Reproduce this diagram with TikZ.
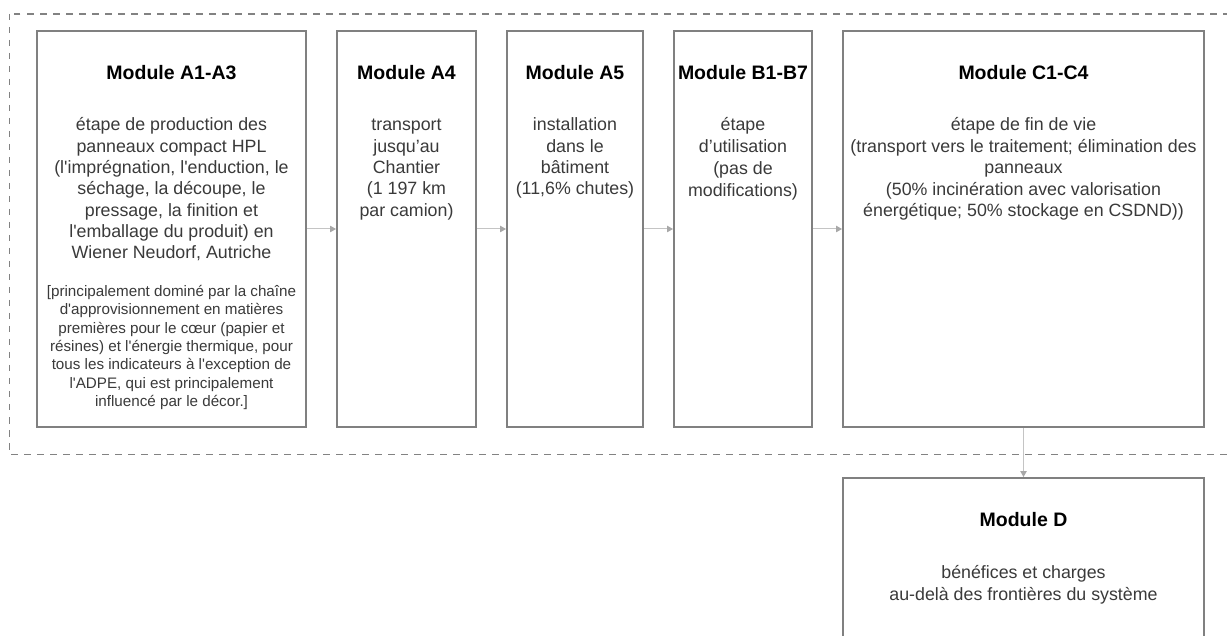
\documentclass[tikz,border=0pt]{standalone}
\usepackage{fontspec}
\setmainfont{Liberation Sans}
\usetikzlibrary{arrows.meta}
\definecolor{boxgray}{HTML}{808080}
\definecolor{dashgray}{HTML}{828282}
\definecolor{arrgray}{HTML}{C4C4C4}
\definecolor{tipgray}{HTML}{A8A8A8}
\definecolor{txtgray}{HTML}{3A3A3A}
\newcommand{\mytxt}[4]{\parbox[t]{#3}{\centering\fontsize{#1}{#2}\selectfont #4}}
\newcommand{\sq}{\textquotesingle}
\begin{document}
\begin{tikzpicture}[x=1pt,y=-1pt,
  modbox/.style={draw=boxgray,line width=2pt,inner sep=0pt,fill=none},
  ttl/.style={anchor=base,inner sep=0pt,text=black,font=\fontsize{19.5}{23}\selectfont\bfseries},
  bodytxt/.style={anchor=base,inner sep=0pt,text=txtgray},
  arr/.style={draw=arrgray,line width=1pt,-{Triangle[length=6pt,width=6.5pt,color=tipgray]}},
  dashline/.style={draw=dashgray,line width=1.5pt,dash pattern=on 6.5pt off 6.5pt}]
\path[use as bounding box] (0,0) rectangle (1227,636);
\clip (0,0) rectangle (1227,636);
\fill[white] (0,0) rectangle (1227,636);
% system boundary
\draw[dashline] (9.5,14) rectangle (1245,454.5);
% boxes
\node[modbox,minimum width=269pt,minimum height=396pt] (a13) at (171.5,229) {};
\node[modbox,minimum width=139pt,minimum height=396pt] (a4) at (406.5,229) {};
\node[modbox,minimum width=136pt,minimum height=396pt] (a5) at (575,229) {};
\node[modbox,minimum width=138pt,minimum height=396pt] (b17) at (743,229) {};
\node[modbox,minimum width=361pt,minimum height=396pt] (c14) at (1023.5,229) {};
\node[modbox,minimum width=361pt,minimum height=240pt] (d) at (1023.5,598) {};
% titles
\node[ttl] (ta13) at (171.5,80) {Module A1-A3};
\node[ttl] (ta4) at (406.5,80) {Module A4};
\node[ttl] (ta5) at (575,80) {Module A5};
\node[ttl] (tb17) at (743,80) {Module B1-B7};
\node[ttl] (tc14) at (1023.5,80) {Module C1-C4};
\node[ttl] (td) at (1023.5,526) {Module D};
% bodies
\node[bodytxt] (ba13) at (171.5,131) {\mytxt{17.8}{21.3}{300pt}{étape de production des\\panneaux compact HPL\\(l\sq imprégnation, l\sq enduction, le\\séchage, la découpe, le\\pressage, la finition et\\l\sq emballage du produit) en\\Wiener Neudorf, Autriche}};
\node[bodytxt] (na13) at (171.5,296.7) {\mytxt{15.2}{18.3}{300pt}{[principalement dominé par la chaîne\\d\sq approvisionnement en matières\\premières pour le cœur (papier et\\résines) et l\sq énergie thermique, pour\\tous les indicateurs à l\sq exception de\\l\sq ADPE, qui est principalement\\influencé par le décor.]}};
\node[bodytxt] (ba4) at (406.5,131) {\mytxt{17.8}{21.3}{200pt}{transport\\jusqu’au\\Chantier\\(1 197 km\\par camion)}};
\node[bodytxt] (ba5) at (575,131) {\mytxt{17.8}{21.3}{200pt}{installation\\dans le\\bâtiment\\(11,6\% chutes)}};
\node[bodytxt] (bb17) at (743,131) {\mytxt{17.8}{22}{200pt}{étape\\d’utilisation\\(pas de\\modifications)}};
\node[bodytxt] (bc14) at (1023.5,131) {\mytxt{17.8}{21.4}{420pt}{étape de fin de vie\\(transport vers le traitement; élimination des\\panneaux\\(50\% incinération avec valorisation\\énergétique; 50\% stockage en CSDND))}};
\node[bodytxt] (bd) at (1023.5,578) {\mytxt{17.8}{22}{420pt}{bénéfices et charges\\au-delà des frontières du système}};
% connectors
\draw[arr] (a13.east) -- (a4.west);
\draw[arr] (a4.east) -- (a5.west);
\draw[arr] (a5.east) -- (b17.west);
\draw[arr] (b17.east) -- (c14.west);
\draw[arr] (c14.south) -- (d.north);
\end{tikzpicture}
\end{document}
